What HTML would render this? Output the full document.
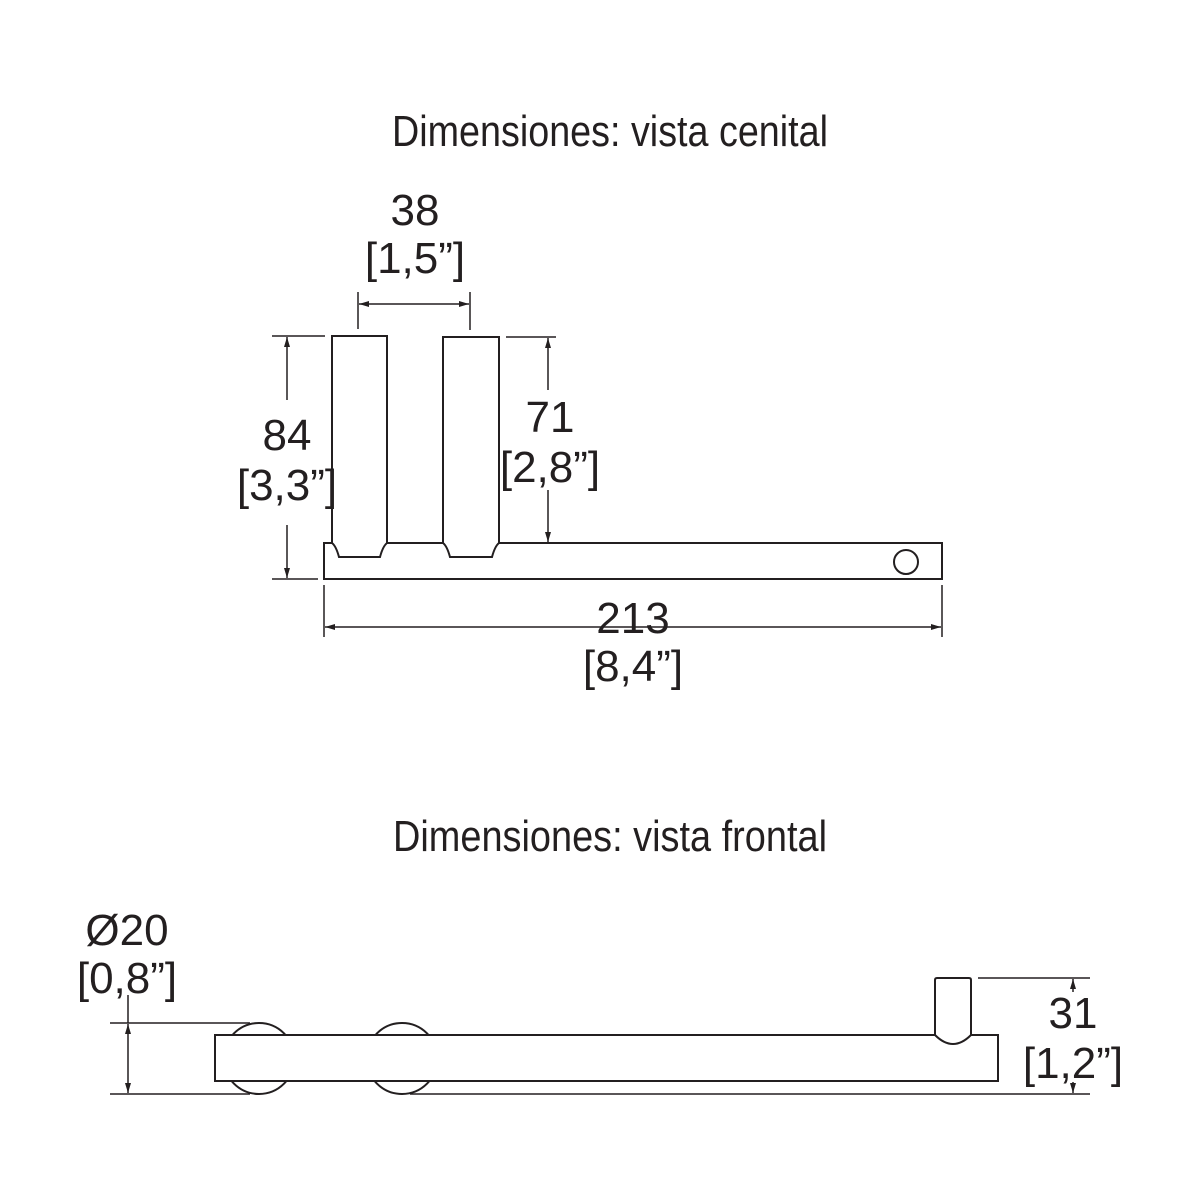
<!DOCTYPE html>
<html><head><style>body{margin:0;background:#fff}svg{display:block}</style></head>
<body>
<svg width="1200" height="1200" viewBox="0 0 1200 1200" xmlns="http://www.w3.org/2000/svg" font-family="Liberation Sans, sans-serif" fill="#231f20">
<defs>
<marker id="a" viewBox="0 0 10 10" refX="10" refY="5" markerWidth="10" markerHeight="10" markerUnits="userSpaceOnUse" orient="auto-start-reverse"><path d="M0,2 L10,5 L0,8 z" fill="#231f20"/></marker>
</defs>
<g font-size="44">
<text x="392" y="146" textLength="436" lengthAdjust="spacingAndGlyphs">Dimensiones: vista cenital</text>
<text x="393" y="851" textLength="434" lengthAdjust="spacingAndGlyphs">Dimensiones: vista frontal</text>
</g>
<g fill="none" stroke="#231f20" stroke-width="2">
<path d="M332,543 L324,543 L324,579 L942,579 L942,543 L499,543"/>
<path d="M387,543 L443,543"/>
<path d="M332,543 L332,336 L387,336 L387,543 Q383,546 380,557 L339,557 Q336,546 332,543"/>
<path d="M443,543 L443,337 L499,337 L499,543 Q495,546 492,557 L450,557 Q447,546 443,543"/>
<circle cx="906" cy="562" r="12"/>
<g stroke-width="1.5">
<line x1="272" y1="336" x2="325" y2="336"/>
<line x1="272" y1="579" x2="318" y2="579"/>
<line x1="287" y1="400" x2="287" y2="337" marker-end="url(#a)"/>
<line x1="287" y1="525" x2="287" y2="578" marker-end="url(#a)"/>
<line x1="358" y1="292" x2="358" y2="329"/>
<line x1="470" y1="292" x2="470" y2="330"/>
<line x1="359" y1="304" x2="469" y2="304" marker-start="url(#a)" marker-end="url(#a)"/>
<line x1="506" y1="337" x2="556" y2="337"/>
<line x1="548" y1="390" x2="548" y2="338" marker-end="url(#a)"/>
<line x1="548" y1="490" x2="548" y2="542" marker-end="url(#a)"/>
<line x1="324" y1="585" x2="324" y2="637"/>
<line x1="942" y1="585" x2="942" y2="637"/>
<line x1="325" y1="627" x2="941" y2="627" marker-start="url(#a)" marker-end="url(#a)"/>
</g>
<circle cx="259" cy="1058.5" r="35.5"/>
<circle cx="402" cy="1058.5" r="35.5"/>
<rect x="215" y="1035" width="783" height="46" fill="#fff"/>
<path d="M935,1035 L935,980 Q935,978 937,978 L969,978 Q971,978 971,980 L971,1035 Q962,1044 953,1044 Q944,1044 935,1035" fill="#fff"/>
<g stroke-width="1.5">
<line x1="110" y1="1023" x2="250" y2="1023"/>
<line x1="110" y1="1094" x2="250" y2="1094"/>
<line x1="410" y1="1094" x2="1090" y2="1094"/>
<line x1="128" y1="995" x2="128" y2="1023"/>
<line x1="128" y1="1024" x2="128" y2="1093" marker-start="url(#a)" marker-end="url(#a)"/>
<line x1="978" y1="978" x2="1090" y2="978"/>
<line x1="1073" y1="992" x2="1073" y2="979" marker-end="url(#a)"/>
<line x1="1073" y1="1082" x2="1073" y2="1093" marker-end="url(#a)"/>
</g>
</g>
<g font-size="44" text-anchor="middle">
<text x="415" y="225">38</text>
<text x="415" y="273">[1,5”]</text>
<text x="287" y="450">84</text>
<text x="287" y="500">[3,3”]</text>
<text x="550" y="432">71</text>
<text x="550" y="482">[2,8”]</text>
<text x="633" y="633">213</text>
<text x="633" y="681">[8,4”]</text>
<text x="127" y="945">Ø20</text>
<text x="127" y="993">[0,8”]</text>
<text x="1073" y="1028">31</text>
<text x="1073" y="1078">[1,2”]</text>
</g>
</svg>
</body></html>
